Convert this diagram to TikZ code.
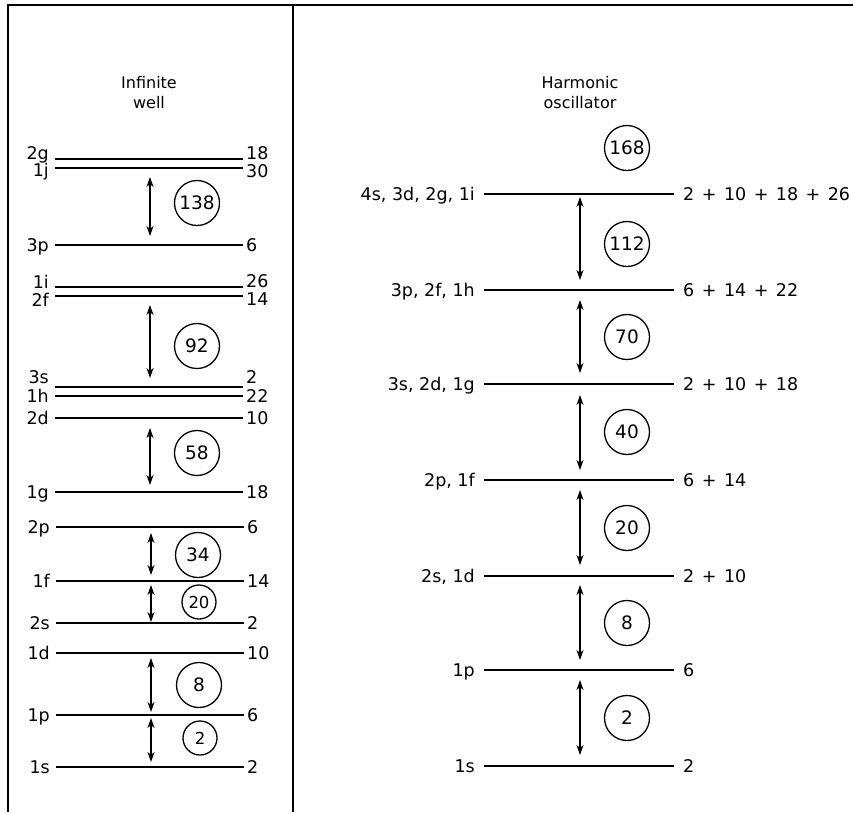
\documentclass[tikz,border=0pt]{standalone}
\usepackage{fontspec}
\setmainfont{DejaVu Sans}
\usetikzlibrary{arrows.meta}
\newcommand\pp{\hspace{7.5pt}+\hspace{7.5pt}}
\def\lgap{6}
\def\rgap{4}
% level line: name, x1, x2, y, left label y, right label y, left text, right text
\newcommand\lev[8]{%
  \coordinate (#1a) at (#2,#4);
  \coordinate (#1b) at (#3,#4);
  \draw[level] (#1a) -- (#1b);
  \node[lab, anchor=base east] (#1l) at (#2-\lgap,#5+6.5) {#7};
  \node[lab, anchor=base west] (#1r) at (#3+\rgap,#6+6.5) {#8};
}
% double arrow between two named coordinates: name, x, y1, y2
\newcommand\gaparrow[4]{%
  \coordinate (#1t) at (#2,#3);
  \coordinate (#1b) at (#2,#4);
  \draw[gap] (#1t) -- (#1b);
}
\begin{document}
\begin{tikzpicture}[x=1pt,y=-1pt,
  level/.style={line width=2.3pt},
  frame/.style={line width=1.7pt},
  gap/.style={line width=1.3pt,
    {Stealth[length=10pt,width=7pt,inset=3pt]}-{Stealth[length=10pt,width=7pt,inset=3pt]}},
  lab/.style={inner sep=0pt, font=\fontsize{17.5}{21}\selectfont},
  magic/.style={draw, circle, line width=1.3pt, minimum size=45pt, inner sep=0pt,
    font=\fontsize{18.5}{20}\selectfont},
  smallmagic/.style={magic, minimum size=34pt, font=\fontsize{16.5}{18}\selectfont},
  title/.style={align=center, inner sep=0pt, font=\fontsize{16}{20}\selectfont}]
\useasboundingbox (0,0) rectangle (853,812);
\fill[white] (0,0) rectangle (853,812);

% frame
\coordinate (F1) at (8,812);
\coordinate (F2) at (8,5);
\coordinate (F3) at (853,5);
\coordinate (D1) at (293,5);
\coordinate (D2) at (293,812);
\draw[frame] (F1) -- (F2) -- (F3);
\draw[frame] (D1) -- (D2);

% titles
\node[title] (T1) at (149,93) {Infinite\\well};
\node[title] (T2) at (580,93) {Harmonic\\oscillator};

% ---------- infinite well ----------
\def\lgap{6}\def\rgap{3}
\lev{Lgtwo}{55}{243}{159}{153}{153}{2g}{18}
\lev{Ljone}{55}{243}{168}{170}{171}{1j}{30}
\lev{Lpthree}{55}{243}{245}{245}{245}{3p}{6}
\lev{Lione}{55}{243}{287}{282}{281}{1i}{26}
\lev{Lftwo}{55}{243}{296}{300}{299}{2f}{14}
\lev{Lsthree}{55}{243}{387}{377}{377}{3s}{2}
\lev{Lhone}{55}{243}{396}{396}{396}{1h}{22}
\lev{Ldtwo}{55}{243}{418}{418}{418}{2d}{10}
\lev{Lgone}{55}{243}{492}{492}{492}{1g}{18}
\lev{Lptwo}{56}{244}{527}{527}{527}{2p}{6}
\lev{Lfone}{56}{244}{581}{581}{581}{1f}{14}
\lev{Lstwo}{56}{244}{623}{623}{623}{2s}{2}
\lev{Ldone}{56}{244}{653}{653}{653}{1d}{10}
\lev{Lpone}{56}{244}{715}{715}{715}{1p}{6}
\lev{Lsone}{56}{244}{767}{767}{767}{1s}{2}

\gaparrow{LA}{150}{177}{236}
\gaparrow{LB}{150}{305}{378}
\gaparrow{LC}{150}{428}{485}
\gaparrow{LD}{151}{533}{575}
\gaparrow{LE}{151}{585}{622}
\gaparrow{LF}{151}{658}{712}
\gaparrow{LG}{151}{718}{762}

\node[magic] (LM138) at (197,203) {138};
\node[magic] (LM92) at (197,346) {92};
\node[magic] (LM58) at (197,453) {58};
\node[magic] (LM34) at (198,555) {34};
\node[smallmagic] (LM20) at (199,602) {20};
\node[magic] (LM8) at (199,685) {8};
\node[smallmagic] (LM2) at (200,738) {2};

% ---------- harmonic oscillator ----------
\def\lgap{9}\def\rgap{9}
\lev{Rfour}{484}{674}{194}{194}{194}{4s, 3d, 2g, 1i}{2\pp10\pp18\pp26}
\lev{Rthree}{484}{674}{290}{290}{290}{3p, 2f, 1h}{6\pp14\pp22}
\lev{Rtwob}{484}{674}{384}{384}{384}{3s, 2d, 1g}{2\pp10\pp18}
\lev{Rtwo}{484}{674}{480}{480}{480}{2p, 1f}{6\pp14}
\lev{Roneb}{484}{674}{576}{576}{576}{2s, 1d}{2\pp10}
\lev{Rone}{484}{674}{670}{670}{670}{1p}{6}
\lev{Rzero}{484}{674}{766}{766}{766}{1s}{2}

\gaparrow{RA}{580}{197}{280}
\gaparrow{RB}{580}{300}{373}
\gaparrow{RC}{580}{395}{470}
\gaparrow{RD}{580}{490}{565}
\gaparrow{RE}{580}{585}{660}
\gaparrow{RF}{580}{680}{755}

\node[magic] (RM168) at (627,148) {168};
\node[magic] (RM112) at (627,244) {112};
\node[magic] (RM70) at (627,337) {70};
\node[magic] (RM40) at (627,432) {40};
\node[magic] (RM20) at (627,528) {20};
\node[magic] (RM8) at (627,623) {8};
\node[magic] (RM2) at (627,718) {2};
\end{tikzpicture}
\end{document}
